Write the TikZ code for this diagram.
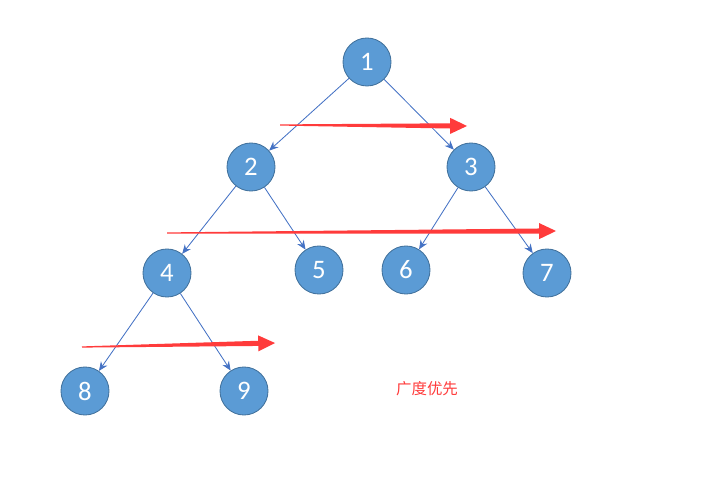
\documentclass[tikz,border=0pt]{standalone}
\usepackage{fontspec}
\usetikzlibrary{arrows.meta,calc}
\newfontfamily\numfont{Carlito}
\newfontfamily\cjkfont{Noto Sans CJK SC}
\definecolor{treefill}{HTML}{5B9BD5}
\definecolor{treeline}{HTML}{41719C}
\definecolor{treeedge}{HTML}{4472C4}
\definecolor{sweepred}{HTML}{FF3B3B}

% tapered red sweep arrow from #1 to #2
\newcommand{\sweeparrow}[2]{%
  \coordinate (hb) at ($(#2)!0.42cm!(#1)$);
  \fill[sweepred] ($(#1)!0.015cm!90:(#2)$) -- ($(#1)!0.015cm!-90:(#2)$)
    -- ($(hb)!0.065cm!-90:(#2)$) -- ($(hb)!0.2cm!-90:(#2)$)
    -- (#2) -- ($(hb)!0.2cm!90:(#2)$) -- ($(hb)!0.065cm!90:(#2)$) -- cycle;}

\begin{document}
\begin{tikzpicture}[x=0.025cm, y=-0.025cm,
  vert/.style={circle, draw=treeline, fill=treefill, line width=0.6pt, minimum size=1.2cm, inner sep=0pt, text=white, font=\numfont\fontsize{19}{21}\selectfont},
  edge/.style={-{Stealth[length=6.5pt,width=5.5pt]}, treeedge, line width=0.6pt}]
  \useasboundingbox (0,0) rectangle (714,490);

  \node[vert] (n1) at (367,62) {1};
  \node[vert] (n2) at (251,167) {2};
  \node[vert] (n3) at (471,167) {3};
  \node[vert] (n4) at (167,273) {4};
  \node[vert] (n5) at (319,270) {5};
  \node[vert] (n6) at (406,270) {6};
  \node[vert] (n7) at (547,273) {7};
  \node[vert] (n8) at (85,391) {8};
  \node[vert] (n9) at (244,391) {9};

  \draw[edge] (n1) -- (n2);
  \draw[edge] (n1) -- (n3);
  \draw[edge] (n2) -- (n4);
  \draw[edge] (n2) -- (n5);
  \draw[edge] (n3) -- (n6);
  \draw[edge] (n3) -- (n7);
  \draw[edge] (n4) -- (n8);
  \draw[edge] (n4) -- (n9);

  % level sweeps
  \coordinate (s1) at (280,125);
  \coordinate (e1) at (467,126);
  \coordinate (s2) at (167,233);
  \coordinate (e2) at (556,231);
  \coordinate (s3) at (82,347);
  \coordinate (e3) at (275,343);
  \sweeparrow{s1}{e1}
  \sweeparrow{s2}{e2}
  \sweeparrow{s3}{e3}

  \node[text=sweepred, font=\cjkfont\fontsize{11}{13}\selectfont] (bfs) at (427,389) {广度优先};
\end{tikzpicture}
\end{document}
